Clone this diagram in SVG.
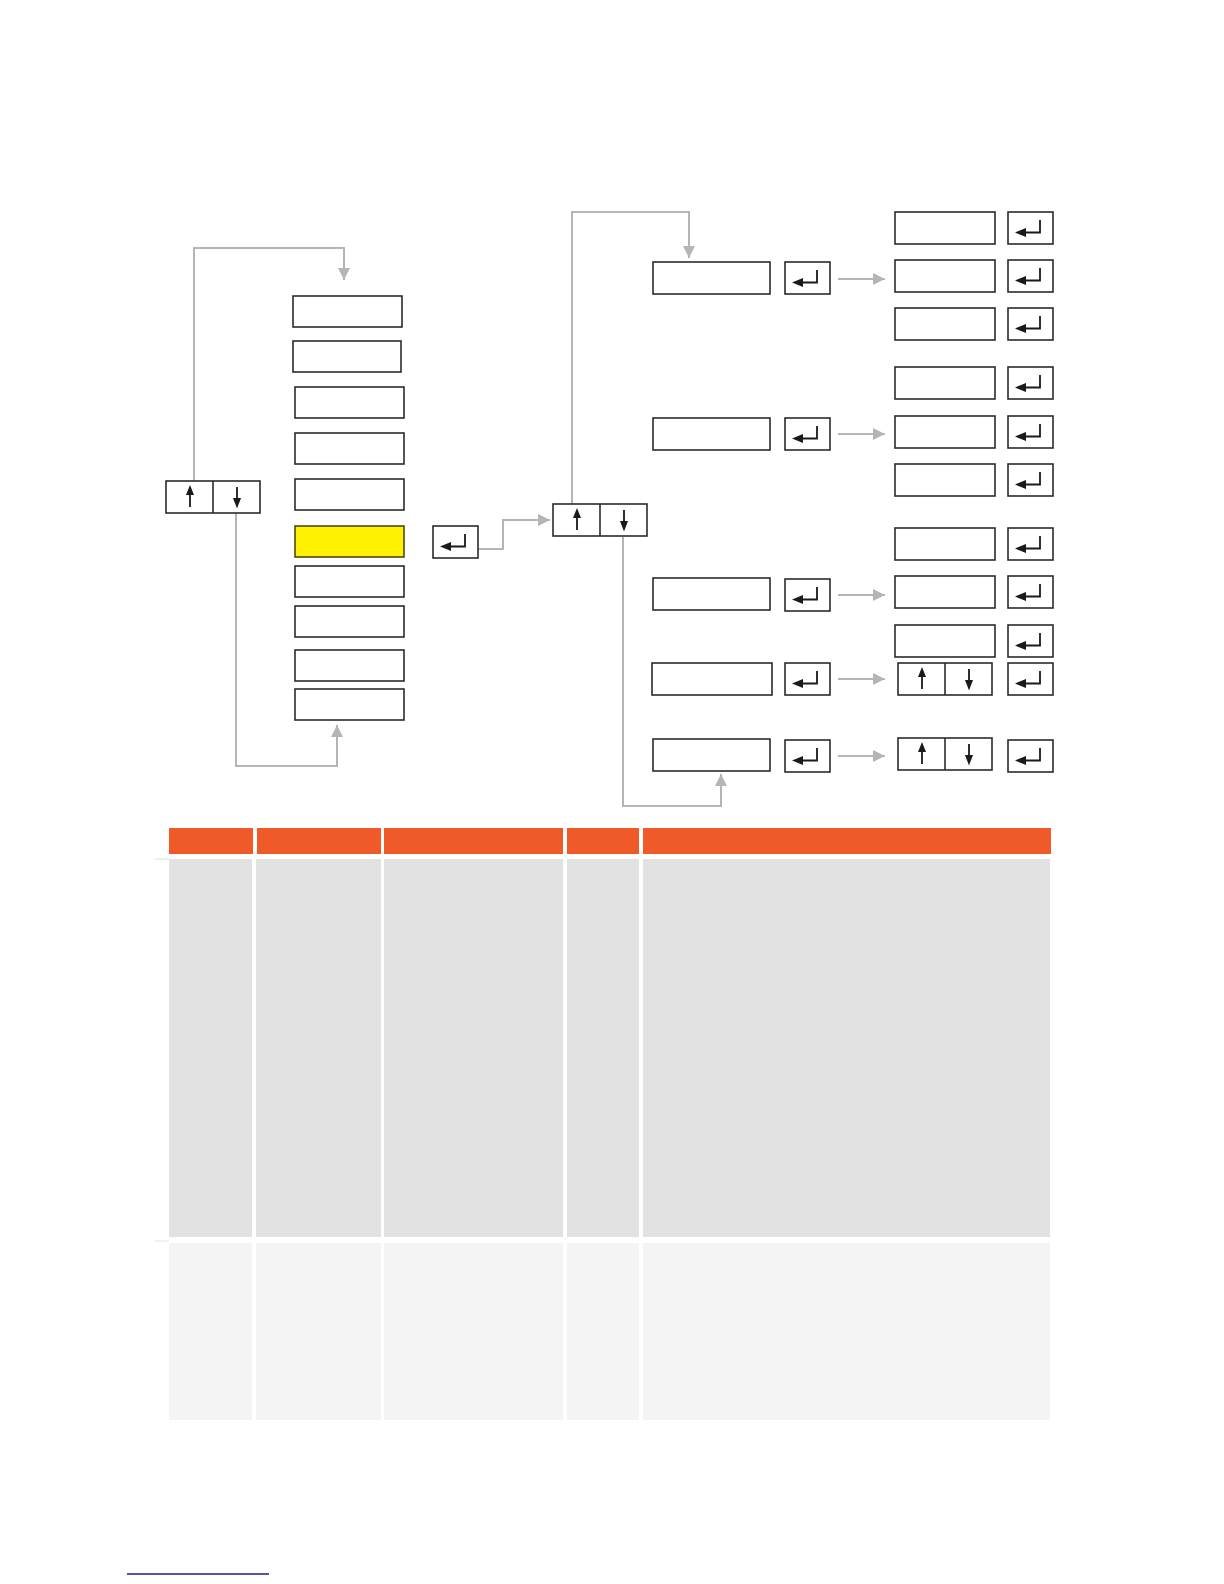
<svg xmlns="http://www.w3.org/2000/svg" xmlns:xlink="http://www.w3.org/1999/xlink" width="1224" height="1584" viewBox="0 0 1224 1584">
<style>
.box{fill:#fff;stroke:#2b2b2b;stroke-width:1.6}
.sel{fill:#fff200;stroke:#4a4a10;stroke-width:1.6}
.conn{fill:none;stroke:#b5b5b5;stroke-width:2}
.ic{fill:none;stroke:#1a1a1a;stroke-width:1.8}
.ah{fill:#1a1a1a}
.hdr{fill:#ef5a28}
.r1{fill:#e2e2e2}
.r2{fill:#f4f4f4}
</style>
<defs>
<marker id="ga" markerUnits="userSpaceOnUse" markerWidth="14" markerHeight="12" refX="12" refY="6" orient="auto">
<path d="M0,0 L12,6 L0,12 z" fill="#b5b5b5"/>
</marker>
<g id="enter">
<rect class="box" x="0" y="0" width="45" height="32"/>
<path class="ic" d="M32 8 V20.5 H16"/>
<polygon class="ah" points="7,20.5 18,16 18,25"/>
</g>
<g id="updown">
<rect class="box" x="0" y="0" width="94" height="32"/>
<line x1="47" y1="0" x2="47" y2="32" stroke="#2b2b2b" stroke-width="1.6"/>
<line class="ic" x1="24" y1="12" x2="24" y2="26"/>
<polygon class="ah" points="24,4 20,14 28,14"/>
<line class="ic" x1="71" y1="6" x2="71" y2="18"/>
<polygon class="ah" points="71,27.5 67,17 75,17"/>
</g>
</defs>
<rect width="1224" height="1584" fill="#fff"/>

<g id="connectors">
<path class="conn" d="M194 482 V248 H344 V280" marker-end="url(#ga)"/>
<path class="conn" d="M236 513 V766 H337 V725" marker-end="url(#ga)"/>
<path class="conn" d="M478 549 H503 V520 H550" marker-end="url(#ga)"/>
<path class="conn" d="M572 504 V212 H689 V258" marker-end="url(#ga)"/>
<path class="conn" d="M623 537 V806 H721 V774" marker-end="url(#ga)"/>
<path class="conn" d="M838 279 H885" marker-end="url(#ga)"/>
<path class="conn" d="M838 434 H885" marker-end="url(#ga)"/>
<path class="conn" d="M838 595 H885" marker-end="url(#ga)"/>
<path class="conn" d="M838 679 H885" marker-end="url(#ga)"/>
<path class="conn" d="M838 756 H885" marker-end="url(#ga)"/>
</g>

<g id="nav-left"><use xlink:href="#updown" href="#updown" x="166" y="481"/></g>
<g id="menu-1"><rect class="box" x="293" y="296" width="109" height="31"/></g>
<g id="menu-2"><rect class="box" x="293" y="341" width="108" height="31"/></g>
<g id="menu-3"><rect class="box" x="295" y="387" width="109" height="31"/></g>
<g id="menu-4"><rect class="box" x="295" y="433" width="109" height="31"/></g>
<g id="menu-5"><rect class="box" x="295" y="479" width="109" height="31"/></g>
<g id="menu-6"><rect class="sel" x="295" y="526" width="109" height="31"/></g>
<g id="menu-7"><rect class="box" x="295" y="566" width="109" height="31"/></g>
<g id="menu-8"><rect class="box" x="295" y="606" width="109" height="31"/></g>
<g id="menu-9"><rect class="box" x="295" y="650" width="109" height="31"/></g>
<g id="menu-10"><rect class="box" x="295" y="689" width="109" height="31"/></g>
<g id="enter-left"><use xlink:href="#enter" href="#enter" x="433" y="526"/></g>
<g id="nav-mid"><use xlink:href="#updown" href="#updown" x="553" y="504"/></g>

<g id="sub-a"><rect class="box" x="653" y="262" width="117" height="32"/></g>
<g id="sub-b"><rect class="box" x="653" y="418" width="117" height="32"/></g>
<g id="sub-c"><rect class="box" x="653" y="578" width="117" height="32"/></g>
<g id="sub-d"><rect class="box" x="652" y="663" width="120" height="32"/></g>
<g id="sub-e"><rect class="box" x="653" y="739" width="117" height="32"/></g>
<g id="enter-a"><use xlink:href="#enter" href="#enter" x="785" y="262"/></g>
<g id="enter-b"><use xlink:href="#enter" href="#enter" x="785" y="418"/></g>
<g id="enter-c"><use xlink:href="#enter" href="#enter" x="785" y="579"/></g>
<g id="enter-d"><use xlink:href="#enter" href="#enter" x="785" y="663"/></g>
<g id="enter-e"><use xlink:href="#enter" href="#enter" x="785" y="740"/></g>

<g id="opt-a1"><rect class="box" x="895" y="212" width="100" height="32"/><use xlink:href="#enter" href="#enter" x="1008" y="212"/></g>
<g id="opt-a2"><rect class="box" x="895" y="260" width="100" height="32"/><use xlink:href="#enter" href="#enter" x="1008" y="260"/></g>
<g id="opt-a3"><rect class="box" x="895" y="308" width="100" height="32"/><use xlink:href="#enter" href="#enter" x="1008" y="308"/></g>
<g id="opt-b1"><rect class="box" x="895" y="367" width="100" height="32"/><use xlink:href="#enter" href="#enter" x="1008" y="367"/></g>
<g id="opt-b2"><rect class="box" x="895" y="416" width="100" height="32"/><use xlink:href="#enter" href="#enter" x="1008" y="416"/></g>
<g id="opt-b3"><rect class="box" x="895" y="464" width="100" height="32"/><use xlink:href="#enter" href="#enter" x="1008" y="464"/></g>
<g id="opt-c1"><rect class="box" x="895" y="528" width="100" height="32"/><use xlink:href="#enter" href="#enter" x="1008" y="528"/></g>
<g id="opt-c2"><rect class="box" x="895" y="576" width="100" height="32"/><use xlink:href="#enter" href="#enter" x="1008" y="576"/></g>
<g id="opt-c3"><rect class="box" x="895" y="625" width="100" height="32"/><use xlink:href="#enter" href="#enter" x="1008" y="625"/></g>
<g id="opt-d"><use xlink:href="#updown" href="#updown" x="898" y="663"/><use xlink:href="#enter" href="#enter" x="1008" y="663"/></g>
<g id="opt-e"><use xlink:href="#updown" href="#updown" x="898" y="738"/><use xlink:href="#enter" href="#enter" x="1008" y="740"/></g>

<g id="table">
<rect class="hdr" x="169" y="828" width="84" height="26"/>
<rect class="hdr" x="257" y="828" width="124" height="26"/>
<rect class="hdr" x="384" y="828" width="179" height="26"/>
<rect class="hdr" x="567" y="828" width="72" height="26"/>
<rect class="hdr" x="643" y="828" width="408" height="26"/>
<rect class="r1" x="169" y="859" width="83" height="378"/>
<rect class="r1" x="256" y="859" width="125" height="378"/>
<rect class="r1" x="384" y="859" width="179" height="378"/>
<rect class="r1" x="567" y="859" width="72" height="378"/>
<rect class="r1" x="643" y="859" width="407" height="378"/>
<rect class="r2" x="169" y="1243" width="83" height="177"/>
<rect class="r2" x="256" y="1243" width="125" height="177"/>
<rect class="r2" x="384" y="1243" width="179" height="177"/>
<rect class="r2" x="567" y="1243" width="72" height="177"/>
<rect class="r2" x="643" y="1243" width="407" height="177"/>
<line x1="155" y1="859" x2="169" y2="859" stroke="#dcdcdc" stroke-width="1"/>
<line x1="155" y1="1241" x2="169" y2="1241" stroke="#e6e6e6" stroke-width="1"/>
</g>
<line x1="127" y1="1574" x2="269" y2="1574" stroke="#1a1a9c" stroke-width="1.5"/>
</svg>
